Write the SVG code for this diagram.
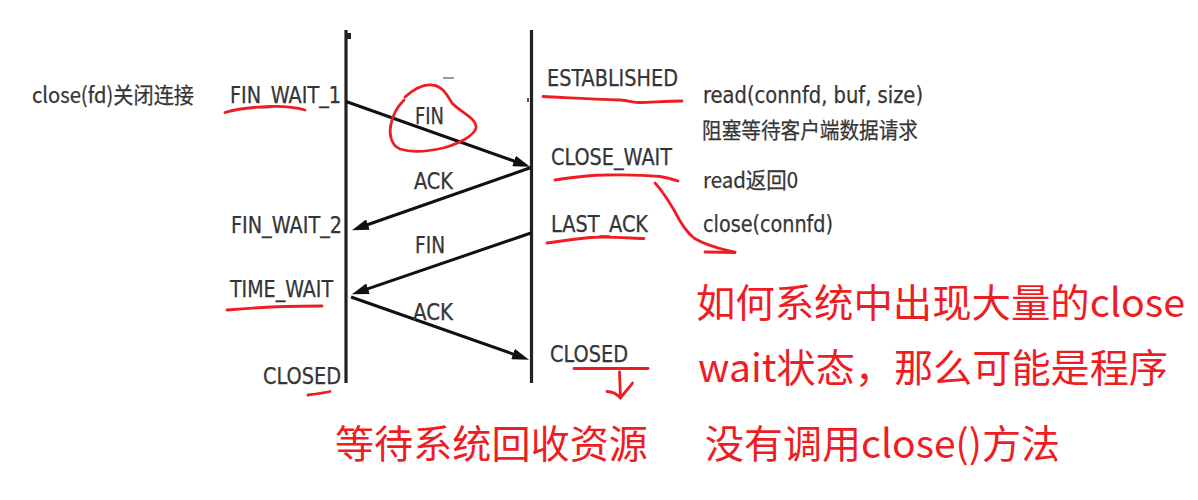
<svg xmlns="http://www.w3.org/2000/svg" width="1198" height="500" viewBox="0 0 1198 500">
<style>
.lbl{font-family:"DejaVu Sans Condensed","DejaVu Sans","Noto Sans CJK SC",sans-serif;font-size:23px;fill:#353535;stroke:#353535;stroke-width:0.25}
.cjk{font-family:"Noto Sans CJK SC","DejaVu Sans",sans-serif;font-size:22px;fill:#353535;stroke:#353535;stroke-width:0.25}
.red{font-family:"Noto Sans CJK SC","Noto Sans",sans-serif;font-size:39px;fill:#ee1d23}
.life{stroke:#222;stroke-width:3.2;fill:none}
.msg{stroke:#111;stroke-width:3;fill:none}
.ink{stroke:#ee1d23;stroke-width:2.8;fill:none;stroke-linecap:round;stroke-linejoin:round}
</style>
<defs>
<marker id="ah" viewBox="0 0 17 11" refX="9" refY="5.5" markerWidth="17" markerHeight="11" markerUnits="userSpaceOnUse" orient="auto">
<path d="M0,0 L17,5.5 L0,11 z" fill="#111"/>
</marker>
</defs>
<rect width="1198" height="500" fill="#fff"/>

<g id="client">
<line class="life" x1="346" y1="30" x2="346" y2="383"/>
<rect x="347" y="33" width="4" height="6" fill="#222"/>
<text class="cjk" x="32" y="103" textLength="162" lengthAdjust="spacingAndGlyphs">close(fd)关闭连接</text>
<text class="lbl" x="230" y="103" textLength="111" lengthAdjust="spacingAndGlyphs">FIN_WAIT_1</text>
<text class="lbl" x="231" y="233" textLength="111" lengthAdjust="spacingAndGlyphs">FIN_WAIT_2</text>
<text class="lbl" x="230" y="297" textLength="103" lengthAdjust="spacingAndGlyphs">TIME_WAIT</text>
<text class="lbl" x="263" y="384" textLength="78" lengthAdjust="spacingAndGlyphs">CLOSED</text>
</g>

<g id="server">
<line class="life" x1="531.5" y1="30" x2="531.5" y2="383"/>
<rect x="527" y="98" width="2" height="4" fill="#555"/>
<text class="lbl" x="547" y="86" textLength="131" lengthAdjust="spacingAndGlyphs">ESTABLISHED</text>
<text class="lbl" x="551" y="165" textLength="121" lengthAdjust="spacingAndGlyphs">CLOSE_WAIT</text>
<text class="lbl" x="551" y="232" textLength="97" lengthAdjust="spacingAndGlyphs">LAST_ACK</text>
<text class="lbl" x="550" y="362" textLength="78" lengthAdjust="spacingAndGlyphs">CLOSED</text>
</g>

<g id="notes">
<text class="lbl" x="703" y="103" textLength="220" lengthAdjust="spacingAndGlyphs">read(connfd, buf, size)</text>
<text class="cjk" x="702" y="138" textLength="216" lengthAdjust="spacingAndGlyphs">阻塞等待客户端数据请求</text>
<text class="cjk" x="703" y="188" textLength="95" lengthAdjust="spacingAndGlyphs">read返回0</text>
<text class="lbl" x="703" y="232" textLength="130" lengthAdjust="spacingAndGlyphs">close(connfd)</text>
</g>

<g id="connectors">
<line class="msg" x1="346" y1="101.5" x2="522.5" y2="164" marker-end="url(#ah)"/>
<line class="msg" x1="531" y1="167.5" x2="359.5" y2="227.5" marker-end="url(#ah)"/>
<line class="msg" x1="531" y1="233" x2="359.5" y2="291.6" marker-end="url(#ah)"/>
<line class="msg" x1="351" y1="297" x2="521.5" y2="357" marker-end="url(#ah)"/>
<line x1="443" y1="78" x2="454" y2="78" stroke="#777" stroke-width="1.5"/>
<text class="lbl" x="415" y="124" textLength="29" lengthAdjust="spacingAndGlyphs">FIN</text>
<text class="lbl" x="414" y="189" textLength="39" lengthAdjust="spacingAndGlyphs">ACK</text>
<text class="lbl" x="415" y="253" textLength="30" lengthAdjust="spacingAndGlyphs">FIN</text>
<text class="lbl" x="413" y="320" textLength="40" lengthAdjust="spacingAndGlyphs">ACK</text>
</g>

<g id="annotations">
<path class="ink" d="M225,112.5 C240,108 255,107 270,106.5 C285,106 298,108 305,110"/>
<path class="ink" d="M543,96.5 C565,97.5 590,99 620,100 C630,101 635,102.5 640,102.5 C655,102 670,101 682,101"/>
<path class="ink" d="M405,97 C415,88 425,84 432,85 C443,86 447,95 452,103 C460,112 477,118 476,128 C474,136 458,144 443,148 C430,151 412,153 400,149 C390,145 389,132 391,124 C393,114 398,106 404,100"/>
<path class="ink" d="M555,180 C575,177 590,175 605,175 C625,174.5 645,175 660,176.5 C670,178 675,180 678,181"/>
<path class="ink" d="M655,183 C662,190 668,200 674,210 C680,222 686,232 694,238 C705,245 720,249 735,252"/>
<path class="ink" d="M705,252 L735,252.5"/>
<path class="ink" d="M547,243 C560,241 575,239 590,237.5 C608,236.5 628,238 644,238.5"/>
<path class="ink" d="M227,310 C245,308.5 265,307 285,306.5 C300,306 312,306 322,306"/>
<path class="ink" d="M308,395 C316,394 324,393 330,391.5"/>
<path class="ink" d="M574,368.5 L648,368.5"/>
<path class="ink" d="M619.5,372 L620.5,398"/>
<path class="ink" d="M607,391.5 C612,391.5 616,393 620.5,398 C624,393 629,388 632.5,383"/>
<text class="red" x="335" y="458" textLength="313" lengthAdjust="spacingAndGlyphs">等待系统回收资源</text>
<text class="red" x="696" y="317" textLength="489" lengthAdjust="spacingAndGlyphs">如何系统中出现大量的close</text>
<text class="red" x="698" y="382" textLength="470" lengthAdjust="spacingAndGlyphs">wait状态，那么可能是程序</text>
<text class="red" x="705" y="458" textLength="355" lengthAdjust="spacingAndGlyphs">没有调用close()方法</text>
</g>
</svg>
